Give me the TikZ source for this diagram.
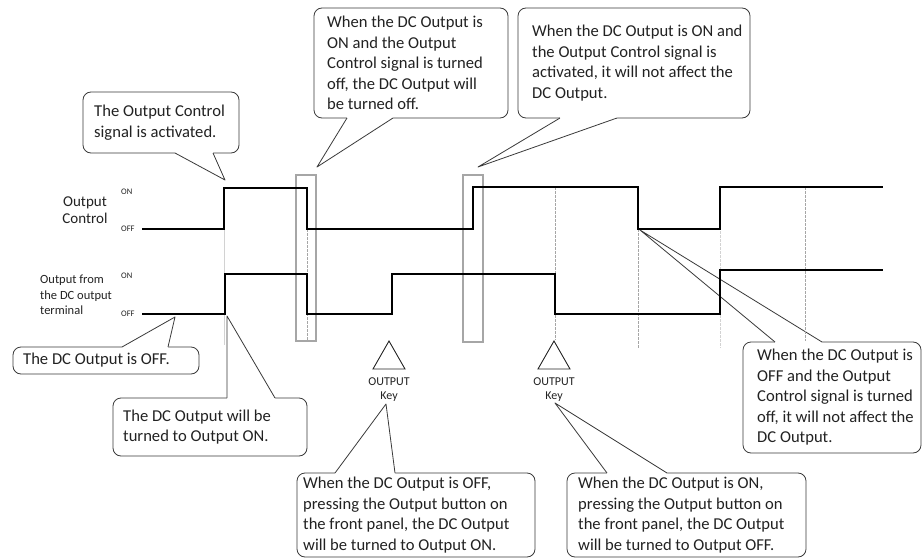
\documentclass[tikz,border=0pt]{standalone}
\usepackage{fontspec}
\setmainfont{Carlito}
\usetikzlibrary{calc}
\definecolor{bubcol}{HTML}{3A3A3A}
\definecolor{txtcol}{HTML}{222222}
\newcommand{\bubfont}{\fontsize{16.6}{20.5}\selectfont}
\newcommand{\bubptr}[6]{%
  \fill[white] ($(#1.#2)+(#3,0)$) -- (#5) -- ($(#1.#2)+(#4,0)$) -- ($(#1.#2)+(#4,#6)$) -- ($(#1.#2)+(#3,#6)$) -- cycle;
  \draw[ptr] ($(#1.#2)+(#3,0)$) -- (#5) -- ($(#1.#2)+(#4,0)$);}
\begin{document}
\begin{tikzpicture}[x=1pt,y=-1pt,
  bub/.style={draw=bubcol, fill=white, rounded corners=8pt, line width=0.8pt, outer sep=0pt, inner sep=0pt, anchor=north west},
  btxt/.style={font=\bubfont, text=txtcol, align=left, anchor=west, inner sep=0pt},
  ptr/.style={draw=bubcol, line width=0.8pt, line join=round},
  wave/.style={draw=black, line width=2.2pt, line join=miter},
  vguide/.style={draw=gray!70, line width=0.5pt, dash pattern=on 2.5pt off 1.5pt},
  hl/.style={draw=gray!70, line width=1.3pt},
  keytri/.style={draw=black!85, line width=0.9pt, line join=miter},
  keylbl/.style={font=\fontsize{12}{14}\selectfont, text=txtcol, inner sep=0pt},
  lvl/.style={font=\fontsize{8.5}{9}\selectfont, text=txtcol, inner sep=0pt, anchor=west},
  sig/.style={text=txtcol, inner sep=0pt}]
\useasboundingbox (0,0) rectangle (923,559);
\fill[white] (0,0) rectangle (923,559);

% callout boxes
\node[bub, minimum width=156pt, minimum height=61pt] (c1) at (83,92) {};
\node[bub, minimum width=194pt, minimum height=110pt] (c2) at (314,8) {};
\node[bub, minimum width=232pt, minimum height=110pt] (c3) at (518,8) {};
\node[bub, minimum width=178pt, minimum height=111pt] (c4) at (743,342) {};
\node[bub, minimum width=186pt, minimum height=27pt] (c5) at (13,347) {};
\node[bub, minimum width=194pt, minimum height=58pt] (c6) at (113,398) {};
\node[bub, minimum width=238pt, minimum height=84pt] (c7) at (297,473) {};
\node[bub, minimum width=239pt, minimum height=84pt] (c8) at (567,473) {};

% pointer tips
\coordinate (tip1) at (225,180);
\coordinate (tip2) at (317,167);
\coordinate (tip3) at (478,167);
\coordinate (tip4) at (640,230);
\coordinate (tip5) at (175,317);
\coordinate (tip6) at (227,316);
\coordinate (tip7) at (386,404);
\coordinate (tip8) at (555,403);

\bubptr{c1}{south west}{92}{130}{tip1}{-1.5}
\bubptr{c2}{south west}{33}{79}{tip2}{-1.5}
\bubptr{c3}{south west}{42}{99}{tip3}{-1.5}
\bubptr{c4}{north west}{32}{79}{tip4}{1.5}
\bubptr{c5}{north west}{109}{155}{tip5}{1.5}
\bubptr{c6}{north west}{114}{162}{tip6}{1.5}
\bubptr{c7}{north west}{38}{98}{tip7}{1.5}
\bubptr{c8}{north west}{40}{100}{tip8}{1.5}

% callout texts
\node[btxt] (t1) at ($(c1.west)+(11,0)$) {The Output Control\\signal is activated.};
\node[btxt] (t2) at ($(c2.west)+(13,0)$) {When the DC Output is\\ON and the Output\\Control signal is turned\\off, the DC Output will\\be turned off.};
\node[btxt] (t3) at ($(c3.west)+(14,0)$) {When the DC Output is ON and\\the Output Control signal is\\activated, it will not affect the\\DC Output.};
\node[btxt] (t4) at ($(c4.west)+(14,0)$) {When the DC Output is\\OFF and the Output\\Control signal is turned\\off, it will not affect the\\DC Output.};
\node[btxt] (t5) at ($(c5.west)+(10,0)$) {The DC Output is OFF.};
\node[btxt] (t6) at ($(c6.west)+(10,0)$) {The DC Output will be\\turned to Output ON.};
\node[btxt] (t7) at ($(c7.west)+(6,0)$) {When the DC Output is OFF,\\pressing the Output button on\\the front panel, the DC Output\\will be turned to Output ON.};
\node[btxt] (t8) at ($(c8.west)+(11,0)$) {When the DC Output is ON,\\pressing the Output button on\\the front panel, the DC Output\\will be turned to Output OFF.};

% signal labels
\node[sig, align=center, font=\fontsize{15}{17}\selectfont] (oc) at (85,210) {Output\\Control};
\node[sig, align=left, anchor=west, font=\fontsize{12.5}{15.5}\selectfont] (dc) at (40,295) {Output from\\the DC output\\terminal};
\node[lvl] (on1) at (121,192) {ON};
\node[lvl] (off1) at (121,229) {OFF};
\node[lvl] (on2) at (121,276) {ON};
\node[lvl] (off2) at (121,314) {OFF};

% guide lines
\draw[draw=gray!35, line width=0.5pt] (224,229) -- (224,345);
\draw[vguide] (307,229) -- (307,340);
\draw[vguide] (555,187) -- (555,340);
\draw[vguide] (638,229) -- (638,348);
\draw[draw=gray!35, line width=0.5pt, dash pattern=on 2.5pt off 1.5pt] (720,187) -- (720,348);
\draw[vguide] (805,187) -- (805,341);

% highlight boxes
\draw[hl] (296,175) rectangle (316,341);
\draw[hl] (463,175) rectangle (483,342);

% waveforms
\draw[wave] (142,229) -- (224,229) -- (224,188) -- (307,188) -- (307,229) -- (473,229) -- (473,187) -- (638,187) -- (638,229) -- (720,229) -- (720,187) -- (883,187);
\draw[wave] (142,314) -- (225,314) -- (225,274) -- (307,274) -- (307,314) -- (392,314) -- (392,274) -- (555,274) -- (555,314) -- (720,314) -- (720,270) -- (883,270);

% OUTPUT keys
\draw[keytri] (389,341) -- (373,369) -- (405,369) -- cycle;
\node[keylbl] (k1a) at (389,382) {OUTPUT};
\node[keylbl] (k1b) at (389,397) {Key};
\draw[keytri] (554,341) -- (538,369) -- (570,369) -- cycle;
\node[keylbl] (k2a) at (554,382) {OUTPUT};
\node[keylbl] (k2b) at (554,397) {Key};
\end{tikzpicture}
\end{document}
